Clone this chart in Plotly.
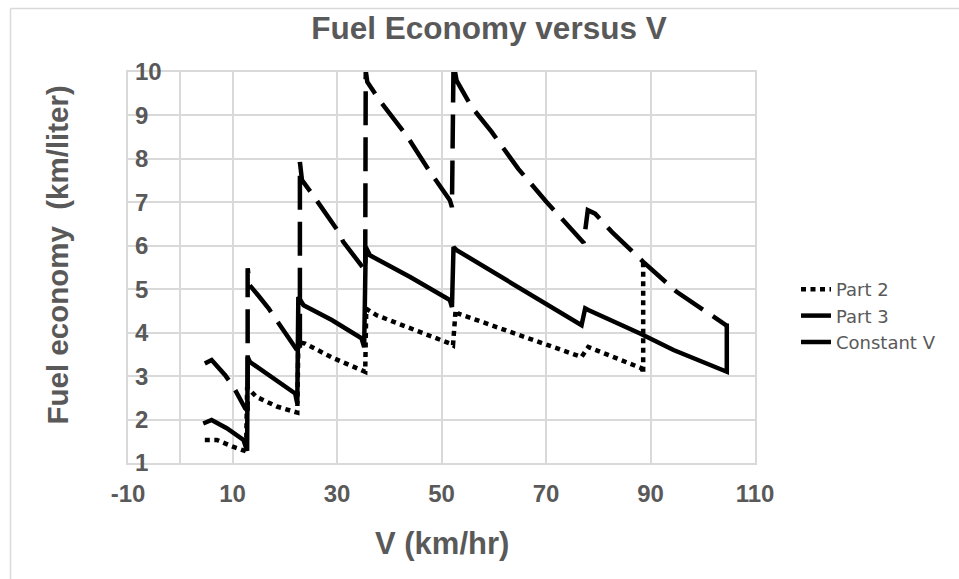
import plotly.graph_objects as go

# Speed (km/hr) and fuel economy (km/liter) for each driving case
part2_v = [4.7, 7.0, 10.2, 11.7, 12.6, 12.8, 14.6, 18.5, 22.4, 22.6, 23.9, 29.0, 34.7, 35.4, 35.6, 37.6,
           51.6, 52.2, 52.7, 53.2, 76.8, 78.1, 88.3, 88.6, 88.6]
part2_fe = [1.53, 1.53, 1.37, 1.30, 1.27, 2.74, 2.52, 2.30, 2.16, 3.78, 3.75, 3.43, 3.14, 3.10, 4.55, 4.40,
            3.75, 3.71, 4.52, 4.44, 3.44, 3.67, 3.18, 3.06, 5.63]

part3_v = [4.4, 6.0, 8.9, 12.1, 12.8, 12.9, 13.3, 17.8, 22.0, 22.4, 22.6, 23.6, 29.0, 34.7, 35.2, 35.5,
           36.3, 44.0, 51.6, 52.0, 52.3, 52.9, 64.7, 76.8, 77.5, 78.1, 88.0, 94.4, 104.6, 104.6]
part3_fe = [1.91, 1.99, 1.80, 1.53, 1.28, 3.44, 3.33, 2.95, 2.60, 2.37, 4.82, 4.63, 4.29, 3.87, 3.67, 5.97,
            5.78, 5.28, 4.75, 4.59, 5.97, 5.90, 5.05, 4.17, 4.56, 4.52, 3.98, 3.60, 3.10, 4.21]

constv_v = [4.7, 6.0, 8.6, 10.2, 12.4, 12.9, 12.9, 13.3, 14.9, 16.9, 20.4, 22.6, 22.9, 22.9, 23.3, 25.2,
            26.7, 30.3, 31.2, 34.7, 35.4, 35.5, 35.8, 38.2, 43.3, 47.8, 51.6, 52.0, 52.3, 52.9, 55.8,
            59.6, 64.7, 70.1, 75.9, 77.2, 78.0, 79.4, 82.6, 88.6, 95.0, 102.0, 104.5]
constv_fe = [3.29, 3.37, 3.02, 2.75, 2.26, 2.20, 5.48, 5.09, 4.86, 4.56, 3.94, 3.55, 3.50, 7.93, 7.51, 7.20,
             6.93, 6.32, 6.09, 5.51, 5.43, 10.03, 9.77, 9.34, 8.54, 7.70, 7.05, 6.89, 10.19, 9.80, 9.19,
             8.62, 7.77, 7.01, 6.24, 6.07, 6.82, 6.74, 6.32, 5.63, 4.94, 4.36, 4.17]

x_ticks = [-10, 10, 30, 50, 70, 90, 110]
x_labels = ["-10", "10", "30", "50", "70", "90", "110"]
y_ticks = [1, 2, 3, 4, 5, 6, 7, 8, 9, 10]

W, H = 959, 579
ML, MR, MT, MB = 128, 204, 72, 116
PW, PH = W - ML - MR, H - MT - MB

GRAY = "#595959"
GRID = "#d9d9d9"
BOLD = dict(family="Liberation Sans, Arial, sans-serif", color=GRAY, weight="bold")


def px_x(px):
    return (px - ML) / PW


def px_y(py):
    return (H - MB - py) / PH


fig = go.Figure()
fig.add_trace(go.Scatter(x=part2_v, y=part2_fe, mode="lines", name="Part 2",
                         line=dict(color="black", width=4.5, dash="5px,4.5px")))
fig.add_trace(go.Scatter(x=part3_v, y=part3_fe, mode="lines", name="Part 3",
                         line=dict(color="black", width=4.5)))
fig.add_trace(go.Scatter(x=constv_v, y=constv_fe, mode="lines", name="Constant V",
                         line=dict(color="black", width=4.5, dash="34px,12px")))

fig.update_layout(
    width=W, height=H,
    margin=dict(l=ML, r=MR, t=MT, b=MB),
    paper_bgcolor="white", plot_bgcolor="white",
    title=dict(text="Fuel Economy versus V", x=489 / W, xref="container", xanchor="center",
               y=1 - 28 / H, yref="container", yanchor="middle",
               font=dict(size=31.5, **BOLD)),
    xaxis=dict(range=[-10, 110], tickmode="array", tickvals=x_ticks, ticktext=x_labels,
               showgrid=True, gridcolor=GRID, gridwidth=1.5,
               zeroline=True, zerolinecolor=GRID, zerolinewidth=1.5,
               showline=True, linecolor=GRID, linewidth=1.5, mirror=True,
               ticks="", ticklabelstandoff=8,
               tickfont=dict(size=24, **BOLD)),
    yaxis=dict(range=[1, 10], tickmode="array", tickvals=y_ticks,
               showgrid=True, gridcolor=GRID, gridwidth=1.5, zeroline=False,
               showline=True, linecolor=GRID, linewidth=1.5, mirror=True,
               ticks="", ticklabelposition="inside", ticklabeloverflow="allow",
               ticklabelstandoff=9,
               tickfont=dict(size=24, **BOLD)),
    legend=dict(x=796 / W, xref="container", xanchor="left",
                y=1 - 271 / H, yref="container", yanchor="top",
                font=dict(family="DejaVu Sans, sans-serif", size=18, color=GRAY),
                bgcolor="rgba(0,0,0,0)", itemwidth=30),
    showlegend=True,
    annotations=[
        dict(text="V (km/hr)", xref="paper", yref="paper", x=0.5, y=px_y(543),
             xanchor="center", yanchor="middle", showarrow=False,
             font=dict(size=31, **BOLD)),
        dict(text="Fuel economy\u00a0 (km/liter)", xref="paper", yref="paper",
             x=px_x(57), y=px_y(255.5), textangle=-90,
             xanchor="center", yanchor="middle", showarrow=False,
             font=dict(size=29.5, **BOLD)),
    ],
    shapes=[
        # chart-area frame (left and top edges)
        dict(type="line", xref="paper", yref="paper", x0=px_x(10.5), x1=px_x(10.5),
             y0=px_y(8.5), y1=px_y(H + 5), line=dict(color=GRID, width=1.5)),
        dict(type="line", xref="paper", yref="paper", x0=px_x(10.5), x1=px_x(W + 5),
             y0=px_y(8.5), y1=px_y(8.5), line=dict(color=GRID, width=1.5)),
    ],
)

fig.write_html("out.html")
